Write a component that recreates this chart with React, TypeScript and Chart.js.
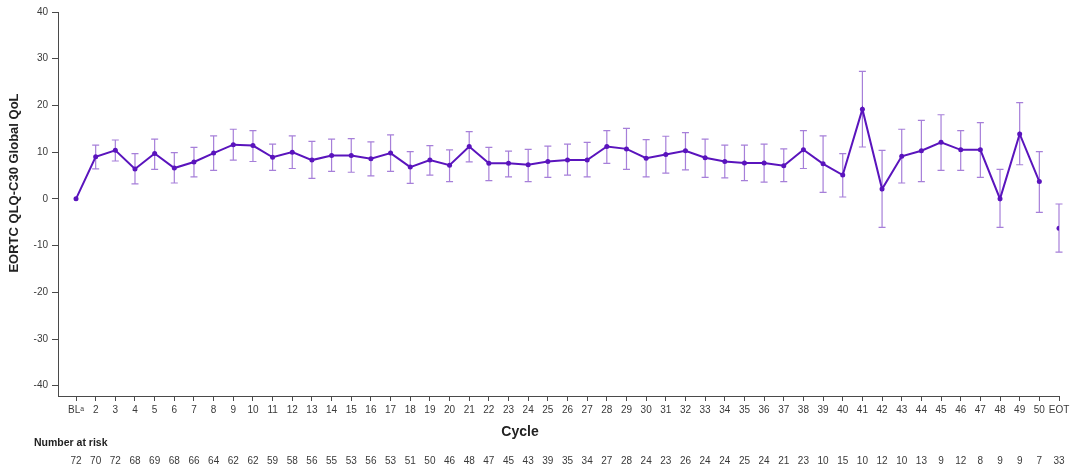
import React, { useEffect, useRef } from "react";
import { Chart, registerables } from "chart.js";

Chart.register(...registerables);

// ---- Data ----
const cycleLabels: string[] = [
  "BLᵃ", "2", "3", "4", "5", "6", "7", "8", "9", "10", "11", "12", "13", "14", "15", "16", "17",
  "18", "19", "20", "21", "22", "23", "24", "25", "26", "27", "28", "29", "30", "31", "32", "33", "34",
  "35", "36", "37", "38", "39", "40", "41", "42", "43", "44", "45", "46", "47", "48", "49", "50", "EOT",
];

const meanChange: number[] = [
  0, 9.0, 10.4, 6.4, 9.7, 6.6, 7.9, 9.8, 11.6, 11.4, 8.9, 10.0, 8.3, 9.3, 9.3, 8.6, 9.8,
  6.8, 8.3, 7.2, 11.2, 7.6, 7.6, 7.3, 8.0, 8.3, 8.3, 11.2, 10.7, 8.7, 9.5, 10.3, 8.8, 8.0,
  7.7, 7.7, 7.1, 10.5, 7.5, 5.1, 19.2, 2.1, 9.1, 10.3, 12.1, 10.5, 10.5, 0.0, 13.9, 3.7, -6.3,
];

const upperCI: (number | null)[] = [
  null, 11.5, 12.6, 9.7, 12.8, 9.9, 11.0, 13.5, 14.9, 14.6, 11.7, 13.5, 12.3, 12.8, 12.9, 12.2, 13.7,
  10.1, 11.4, 10.5, 14.4, 11.0, 10.2, 10.6, 11.3, 11.7, 12.1, 14.6, 15.1, 12.7, 13.4, 14.2, 12.8, 11.5,
  11.5, 11.7, 10.7, 14.6, 13.5, 9.7, 27.3, 10.4, 14.9, 16.8, 18.0, 14.6, 16.3, 6.3, 20.6, 10.1, -1.1,
];

const lowerCI: (number | null)[] = [
  null, 6.4, 8.1, 3.2, 6.3, 3.4, 4.7, 6.1, 8.3, 8.0, 6.1, 6.5, 4.4, 5.9, 5.7, 4.9, 5.9,
  3.3, 5.1, 3.7, 7.9, 3.9, 4.7, 3.7, 4.6, 5.1, 4.7, 7.6, 6.3, 4.7, 5.5, 6.2, 4.6, 4.5,
  3.9, 3.6, 3.7, 6.5, 1.4, 0.4, 11.1, -6.1, 3.4, 3.7, 6.1, 6.1, 4.6, -6.1, 7.3, -2.9, -11.4,
];

const numberAtRisk: number[] = [
  72, 70, 72, 68, 69, 68, 66, 64, 62, 62, 59, 58, 56, 55, 53, 56, 53,
  51, 50, 46, 48, 47, 45, 43, 39, 35, 34, 27, 28, 24, 23, 26, 24, 24,
  25, 24, 21, 23, 10, 15, 10, 12, 10, 13, 9, 12, 8, 9, 9, 7, 33,
];

const yTickValues: number[] = [-40, -30, -20, -10, 0, 10, 20, 30, 40];

const yTitle = "EORTC QLQ-C30 Global QoL";
const xTitle = "Cycle";
const riskTitle = "Number at risk";

// ---- Styles ----
const LINE_COLOR = "#5a14bd";
const BAR_COLOR = "rgba(150, 105, 210, 0.85)";
const AXIS_COLOR = "#4a4a4a";
const TEXT_COLOR = "#3a3a3a";
const FONT = "'Liberation Sans', Arial, Helvetica, sans-serif";

const eotIndex = cycleLabels.length - 1;

const errorBarPlugin = {
  id: "errorBars",
  beforeDatasetsDraw(chart: any) {
    const { ctx, scales } = chart;
    const xs = scales.x;
    const ys = scales.y;
    ctx.save();
    ctx.strokeStyle = BAR_COLOR;
    ctx.lineWidth = 1.2;
    for (let i = 0; i < cycleLabels.length; i++) {
      const hi = upperCI[i];
      const lo = lowerCI[i];
      if (hi == null || lo == null) continue;
      const x = xs.getPixelForValue(i);
      const yh = ys.getPixelForValue(hi);
      const yl = ys.getPixelForValue(lo);
      ctx.beginPath();
      ctx.moveTo(x, yh);
      ctx.lineTo(x, yl);
      ctx.moveTo(x - 3.5, yh);
      ctx.lineTo(x + 3.5, yh);
      ctx.moveTo(x - 3.5, yl);
      ctx.lineTo(x + 3.5, yl);
      ctx.stroke();
    }
    ctx.restore();
  },
};

const annotationPlugin = {
  id: "annotations",
  afterDraw(chart: any) {
    const { ctx, scales, chartArea } = chart;
    const xs = scales.x;
    ctx.save();
    // x title
    ctx.fillStyle = "#222";
    ctx.font = `bold 14px ${FONT}`;
    ctx.textAlign = "center";
    ctx.textBaseline = "middle";
    ctx.fillText(xTitle, 520, chartArea.bottom + 36);
    // y title
    ctx.save();
    ctx.translate(14, 183);
    ctx.rotate(-Math.PI / 2);
    ctx.font = `bold 13px ${FONT}`;
    ctx.fillText(yTitle, 0, 0);
    ctx.restore();
    // number at risk
    ctx.font = `bold 10.5px ${FONT}`;
    ctx.textAlign = "left";
    ctx.fillText(riskTitle, 34, chartArea.bottom + 47);
    ctx.font = `10px ${FONT}`;
    ctx.fillStyle = TEXT_COLOR;
    ctx.textAlign = "center";
    for (let i = 0; i < numberAtRisk.length; i++) {
      ctx.fillText(String(numberAtRisk[i]), xs.getPixelForValue(i), chartArea.bottom + 65);
    }
    ctx.restore();
  },
};

export default function App() {
  const canvasRef = useRef<HTMLCanvasElement | null>(null);

  useEffect(() => {
    if (!canvasRef.current) return;
    Chart.defaults.font.family = FONT;

    const lineData = meanChange
      .slice(0, eotIndex)
      .map((v, i) => ({ x: i, y: v }));
    const eotData = [{ x: eotIndex, y: meanChange[eotIndex] }];

    const chart = new Chart(canvasRef.current, {
      type: "scatter",
      data: {
        datasets: [
          {
            label: "Mean change",
            data: lineData,
            showLine: true,
            borderColor: LINE_COLOR,
            backgroundColor: LINE_COLOR,
            borderWidth: 2,
            pointRadius: 2.5,
            pointBorderWidth: 0,
            tension: 0,
          },
          {
            label: "EOT",
            data: eotData,
            showLine: false,
            borderColor: LINE_COLOR,
            backgroundColor: LINE_COLOR,
            pointRadius: 2.5,
            pointBorderWidth: 0,
          },
        ],
      },
      options: {
        responsive: false,
        animation: false,
        devicePixelRatio: 1,
        layout: { padding: { left: 0, right: 21, top: 12, bottom: 50 } },
        plugins: {
          legend: { display: false },
          tooltip: { enabled: false },
        },
        scales: {
          x: {
            type: "linear",
            min: -0.916,
            max: eotIndex,
            afterBuildTicks: (scale: any) => {
              scale.ticks = cycleLabels.map((_, i) => ({ value: i }));
            },
            afterFit: (scale: any) => {
              scale.height = 30;
            },
            ticks: {
              autoSkip: false,
              maxRotation: 0,
              minRotation: 0,
              padding: 3,
              color: TEXT_COLOR,
              font: { size: 10, family: FONT },
              callback: (v: any) => cycleLabels[Number(v)] ?? "",
            },
            grid: {
              display: true,
              drawOnChartArea: false,
              drawTicks: true,
              tickLength: 5,
              color: AXIS_COLOR,
              lineWidth: 1,
            },
            border: { display: true, color: AXIS_COLOR, width: 1 },
          },
          y: {
            type: "linear",
            min: -42.2,
            max: 40,
            afterBuildTicks: (scale: any) => {
              scale.ticks = yTickValues.map((v) => ({ value: v }));
            },
            afterFit: (scale: any) => {
              scale.width = 58;
            },
            ticks: {
              padding: 4,
              color: TEXT_COLOR,
              font: { size: 10, family: FONT },
            },
            grid: {
              display: true,
              drawOnChartArea: false,
              drawTicks: true,
              tickLength: 6,
              color: AXIS_COLOR,
              lineWidth: 1,
            },
            border: { display: true, color: AXIS_COLOR, width: 1 },
          },
        },
      },
      plugins: [errorBarPlugin, annotationPlugin],
    } as any);

    return () => chart.destroy();
  }, []);

  return (
    <div
      style={{
        position: "fixed",
        left: 0,
        top: 0,
        width: 1080,
        height: 476,
        background: "#ffffff",
      }}
    >
      <canvas
        ref={canvasRef}
        width={1080}
        height={476}
        style={{ width: 1080, height: 476, display: "block" }}
      />
    </div>
  );
}
